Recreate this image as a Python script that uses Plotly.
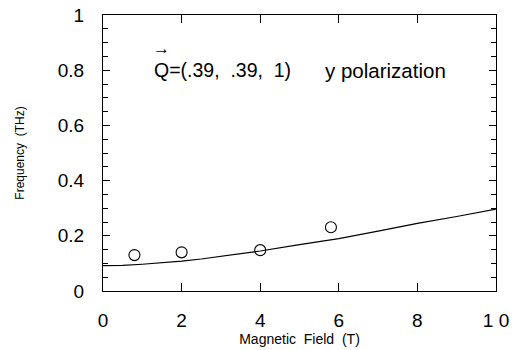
import plotly.graph_objects as go

# Data
field_pts = [0.8, 2.0, 4.0, 5.8]
freq_pts = [0.13, 0.14, 0.148, 0.231]

field_curve = [0, 0.5, 1, 1.5, 2, 2.5, 3, 3.5, 4, 5, 6, 7, 8, 9, 10]
freq_curve = [0.092, 0.093, 0.097, 0.102, 0.108, 0.116, 0.126, 0.135, 0.145,
              0.168, 0.19, 0.217, 0.245, 0.27, 0.297]

x_ticks = [0, 2, 4, 6, 8, 10]
x_ticklabels = ["0", "2", "4", "6", "8", "1 0"]
y_ticks = [0, 0.2, 0.4, 0.6, 0.8, 1]
y_ticklabels = ["0", "0.2", "0.4", "0.6", "0.8", "1"]

FONT = "Liberation Sans, Arial, Helvetica, sans-serif"

fig = go.Figure()
fig.add_trace(go.Scatter(x=field_curve, y=freq_curve, mode="lines",
                         line=dict(color="black", width=1.2), showlegend=False))
fig.add_trace(go.Scatter(x=field_pts, y=freq_pts, mode="markers",
                         marker=dict(symbol="circle-open", size=11,
                                     color="black", line=dict(width=1.1)),
                         showlegend=False))

fig.add_annotation(x=1.25, y=0.8, xref="x", yref="y", text="Q=(.39,  .39,  1)",
                   showarrow=False, xanchor="left", yanchor="middle",
                   font=dict(family=FONT, size=19.5, color="black"))
fig.add_annotation(x=1.22, y=0.877, xref="x", yref="y", text="→",
                   showarrow=False, xanchor="left", yanchor="middle",
                   font=dict(family=FONT, size=17, color="black"))
fig.add_annotation(x=5.6, y=0.8, xref="x", yref="y", text="y polarization",
                   showarrow=False, xanchor="left", yanchor="middle",
                   font=dict(family=FONT, size=20.5, color="black"))

fig.update_xaxes(range=[0, 10], tickvals=x_ticks, ticktext=x_ticklabels,
                 ticks="inside", ticklen=8, tickwidth=1, tickcolor="black",
                 showline=True, linecolor="black", linewidth=1, mirror="ticks",
                 showgrid=False, zeroline=False, ticklabelstandoff=12,
                 automargin=False,
                 tickfont=dict(family=FONT, size=19, color="black"),
                 title=dict(text="Magnetic  Field  (T)", standoff=4,
                            font=dict(family=FONT, size=14, color="black")))
fig.update_yaxes(range=[0, 1], tickvals=y_ticks, ticktext=y_ticklabels,
                 ticks="inside", ticklen=7, tickwidth=1, tickcolor="black",
                 minor=dict(dtick=0.05, tick0=0, ticks="inside", ticklen=5,
                            tickcolor="black", tickwidth=1, showgrid=False),
                 showline=True, linecolor="black", linewidth=1, mirror="ticks",
                 showgrid=False, zeroline=False, ticklabelstandoff=14,
                 automargin=False,
                 tickfont=dict(family=FONT, size=19, color="black"),
                 title=dict(text="Frequency  (THz)", standoff=30,
                            font=dict(family=FONT, size=12, color="black")))

fig.update_layout(width=512, height=350,
                  margin=dict(l=103, r=16, t=15, b=59),
                  plot_bgcolor="white", paper_bgcolor="white")

fig.write_html("out.html")
